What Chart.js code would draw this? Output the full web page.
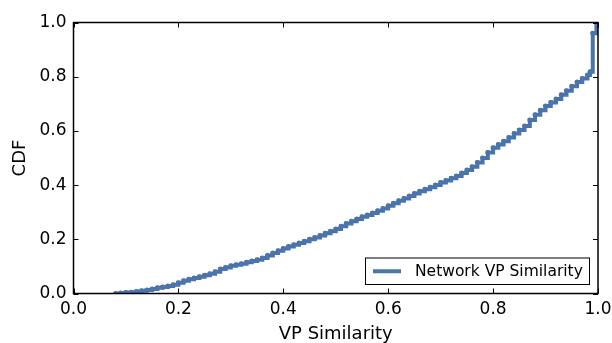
<!DOCTYPE html>
<html>
<head>
<meta charset="utf-8">
<script src="https://cdn.jsdelivr.net/npm/chart.js@4/dist/chart.umd.min.js"></script>
<style>
  html, body { margin: 0; padding: 0; background: #ffffff; }
  #wrap { width: 612px; height: 343px; }
</style>
</head>
<body>
<div id="wrap"><canvas id="cdf" width="612" height="343"></canvas></div>
<script>
// Empirical CDF of VP similarity values
const similarity = [
  0.08, 0.09, 0.10, 0.11, 0.12, 0.13, 0.14, 0.15, 0.16, 0.17,
  0.18, 0.19, 0.20, 0.21, 0.22, 0.23, 0.24, 0.25, 0.26, 0.27,
  0.28, 0.29, 0.30, 0.31, 0.32, 0.33, 0.34, 0.35, 0.36, 0.37,
  0.38, 0.39, 0.40, 0.41, 0.42, 0.43, 0.44, 0.45, 0.46, 0.47,
  0.48, 0.49, 0.50, 0.51, 0.52, 0.53, 0.54, 0.55, 0.56, 0.57,
  0.58, 0.59, 0.60, 0.61, 0.62, 0.63, 0.64, 0.65, 0.66, 0.67,
  0.68, 0.69, 0.70, 0.71, 0.72, 0.73, 0.74, 0.75, 0.76, 0.77,
  0.78, 0.79, 0.80, 0.81, 0.82, 0.83, 0.84, 0.85, 0.86, 0.87,
  0.88, 0.89, 0.90, 0.91, 0.92, 0.93, 0.94, 0.95, 0.96, 0.97,
  0.98, 0.985, 0.99, 0.997
];
const cdf = [
  0.000, 0.002, 0.004, 0.005, 0.007, 0.010, 0.013, 0.017, 0.021, 0.024,
  0.028, 0.032, 0.040, 0.047, 0.053, 0.057, 0.062, 0.067, 0.073, 0.080,
  0.090, 0.096, 0.102, 0.106, 0.110, 0.115, 0.120, 0.125, 0.131, 0.140,
  0.149, 0.158, 0.166, 0.173, 0.180, 0.186, 0.193, 0.200, 0.207, 0.214,
  0.222, 0.230, 0.238, 0.248, 0.258, 0.267, 0.275, 0.283, 0.290, 0.297,
  0.305, 0.314, 0.324, 0.333, 0.342, 0.351, 0.360, 0.369, 0.377, 0.385,
  0.392, 0.400, 0.410, 0.417, 0.425, 0.434, 0.445, 0.456, 0.468, 0.483,
  0.500, 0.520, 0.538, 0.550, 0.562, 0.576, 0.590, 0.603, 0.618, 0.640,
  0.660, 0.676, 0.692, 0.705, 0.718, 0.733, 0.748, 0.765, 0.780, 0.793,
  0.806, 0.818, 0.960, 1.000
];
const xTicks = [0.0, 0.2, 0.4, 0.6, 0.8, 1.0];
const yTicks = [0.0, 0.2, 0.4, 0.6, 0.8, 1.0];
const seriesLabel = 'Network VP Similarity';
const lineColor = '#4a74aa';

const FONT = 'DejaVu Sans';
Chart.defaults.font.family = FONT;
Chart.defaults.color = '#000000';

// Box around the plot and inward-facing ticks on all four sides
const framePlugin = {
  id: 'frame',
  afterDatasetsDraw(chart) {
    const { ctx, chartArea: a, scales } = chart;
    const len = 5;
    ctx.save();
    ctx.strokeStyle = '#000000';
    ctx.lineWidth = 1;
    ctx.beginPath();
    xTicks.forEach(v => {
      const px = Math.round(scales.x.getPixelForValue(v)) + 0.5;
      ctx.moveTo(px, a.bottom); ctx.lineTo(px, a.bottom - len);
      ctx.moveTo(px, a.top); ctx.lineTo(px, a.top + len);
    });
    yTicks.forEach(v => {
      const py = Math.round(scales.y.getPixelForValue(v)) + 0.5;
      ctx.moveTo(a.left, py); ctx.lineTo(a.left + len, py);
      ctx.moveTo(a.right, py); ctx.lineTo(a.right - len, py);
    });
    ctx.stroke();
    ctx.lineWidth = 1.5;
    ctx.strokeRect(a.left, a.top, a.right - a.left, a.bottom - a.top);
    ctx.restore();
  }
};

// Legend box in the lower right corner of the plot
const legendBoxPlugin = {
  id: 'legendBox',
  afterDraw(chart) {
    const { ctx, chartArea: a } = chart;
    const ds = chart.data.datasets[0];
    const w = 225, h = 27.5;
    const x0 = a.right - 8 - w, y0 = a.bottom - 8.5 - h;
    ctx.save();
    ctx.fillStyle = '#ffffff';
    ctx.fillRect(x0, y0, w, h);
    ctx.strokeStyle = '#000000';
    ctx.lineWidth = 1;
    ctx.strokeRect(x0 + 0.5, y0 + 0.5, w - 1, h - 1);
    const cy = y0 + h / 2;
    ctx.strokeStyle = ds.borderColor;
    ctx.lineWidth = 4;
    ctx.beginPath();
    ctx.moveTo(x0 + 8, cy);
    ctx.lineTo(x0 + 36, cy);
    ctx.stroke();
    ctx.fillStyle = '#000000';
    ctx.font = '15.5px "' + FONT + '"';
    ctx.textBaseline = 'middle';
    ctx.textAlign = 'left';
    ctx.fillText(ds.label, x0 + 50, cy + 0.5);
    ctx.restore();
  }
};

const points = similarity.map((x, i) => ({ x: x, y: cdf[i] }));

new Chart(document.getElementById('cdf'), {
  type: 'line',
  data: {
    datasets: [{
      label: seriesLabel,
      data: points,
      borderColor: lineColor,
      backgroundColor: lineColor,
      borderWidth: 4,
      stepped: true,
      pointRadius: 2.5,
      pointBorderWidth: 0,
      pointBackgroundColor: lineColor,
      fill: false
    }]
  },
  options: {
    responsive: false,
    animation: false,
    events: [],
    layout: { padding: { left: 0, right: 14, top: 22.5, bottom: 0 } },
    plugins: {
      legend: { display: false },
      tooltip: { enabled: false }
    },
    scales: {
      x: {
        type: 'linear',
        min: 0, max: 1,
        afterBuildTicks: s => { s.ticks = xTicks.map(v => ({ value: v })); },
        afterFit: s => { s.height = 49.5; s.paddingLeft = 0; s.paddingRight = 0; },
        grid: { display: false, drawTicks: false },
        border: { display: false },
        ticks: {
          padding: 6,
          maxRotation: 0,
          autoSkip: false,
          font: { size: 17 },
          color: '#000000',
          callback: v => Number(v).toFixed(1)
        },
        title: {
          display: true,
          text: 'VP Similarity',
          font: { size: 18 },
          color: '#000000',
          padding: { top: 0, bottom: -2 }
        }
      },
      y: {
        type: 'linear',
        min: 0, max: 1,
        afterBuildTicks: s => { s.ticks = yTicks.map(v => ({ value: v })); },
        afterFit: s => { s.width = 73.5; s.paddingTop = 0; s.paddingBottom = 0; },
        grid: { display: false, drawTicks: false },
        border: { display: false },
        ticks: {
          padding: 7,
          autoSkip: false,
          font: { size: 17 },
          color: '#000000',
          callback: v => Number(v).toFixed(1)
        },
        title: {
          display: true,
          text: 'CDF',
          font: { size: 18 },
          color: '#000000',
          padding: { top: 10, bottom: 0 }
        }
      }
    }
  },
  plugins: [framePlugin, legendBoxPlugin]
});
</script>
</body>
</html>
